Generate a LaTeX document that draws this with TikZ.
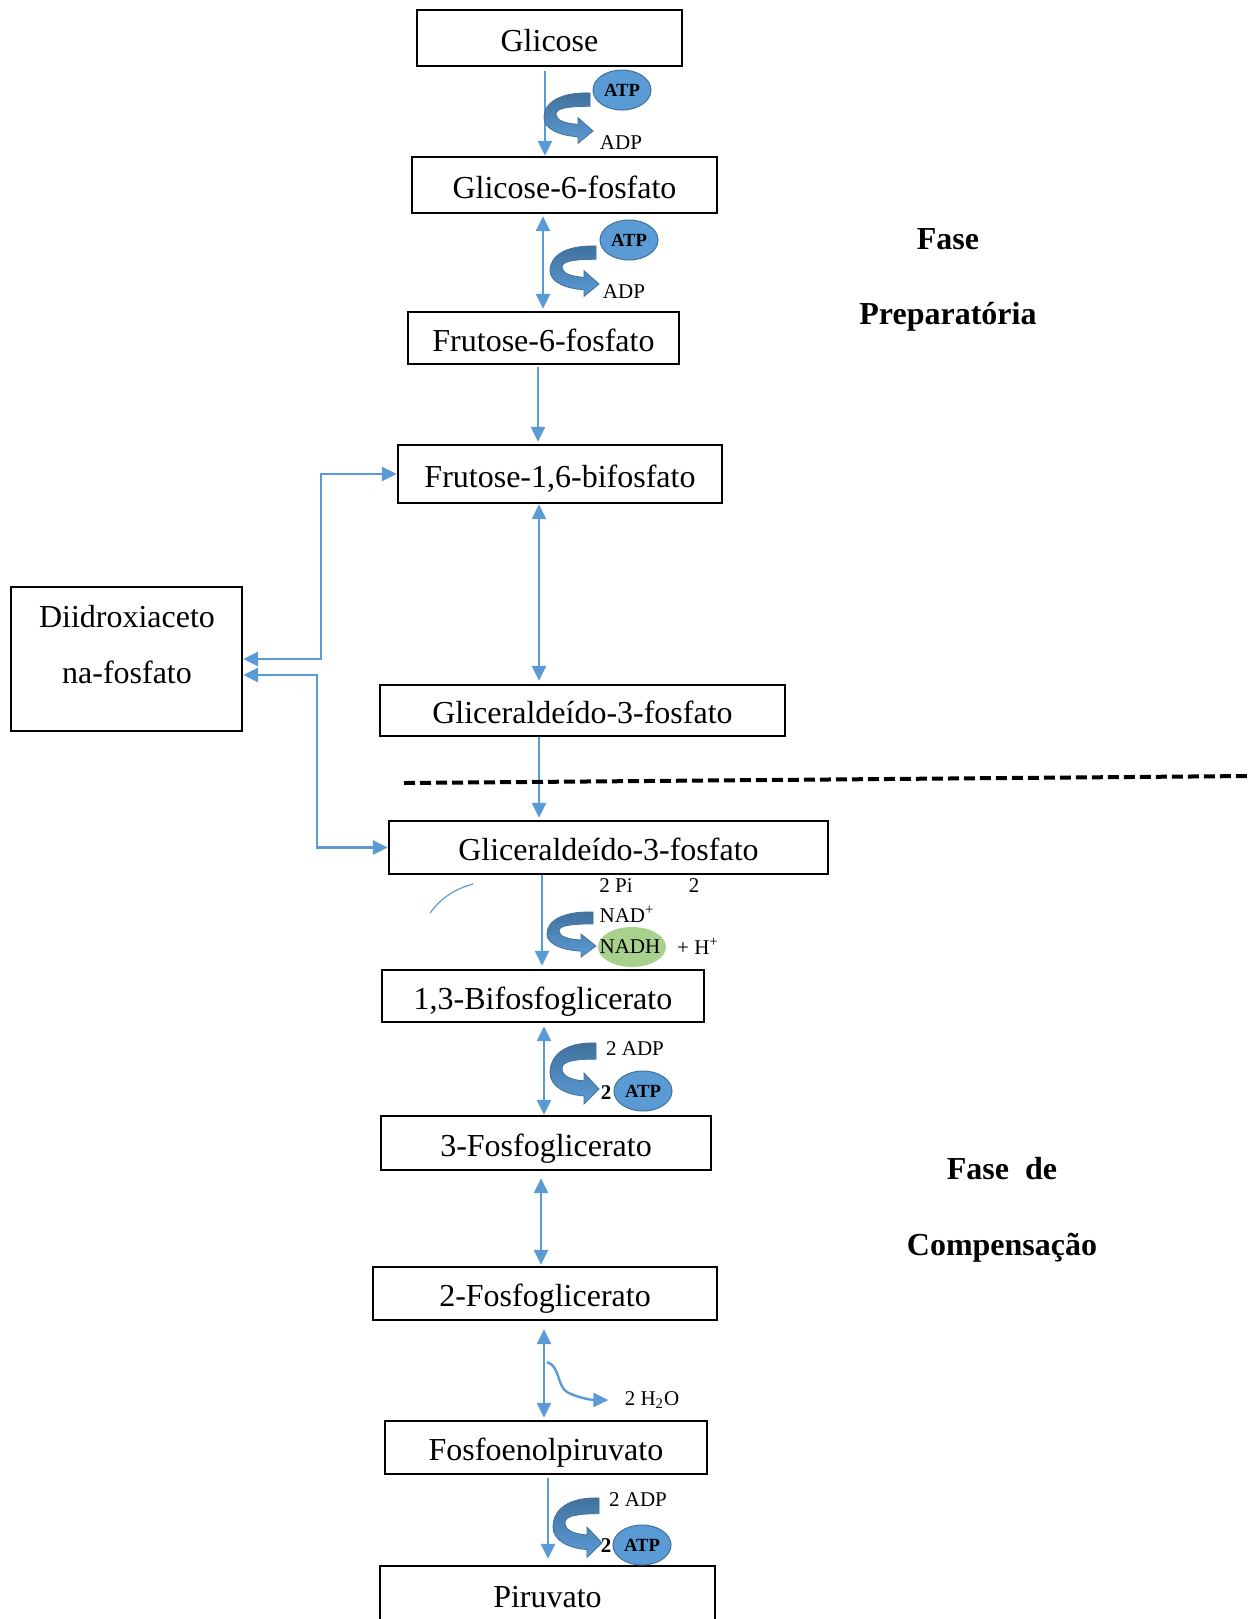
\documentclass[tikz,border=0pt]{standalone}
\usepackage{fontspec}
\setmainfont{Liberation Serif}
\usetikzlibrary{arrows.meta,shapes.geometric}

\definecolor{flowblue}{RGB}{91,155,213}
\definecolor{bandblue}{RGB}{65,113,156}
\definecolor{nadgreen}{RGB}{169,209,142}

\begin{document}
\begin{tikzpicture}[x=0.5pt, y=-0.5pt,
    box/.style={draw, line width=1.2pt, inner sep=0pt, text height=17pt, text depth=4pt, font=\fontsize{16}{19}\selectfont},
    flow/.style={flowblue, line width=1.4pt, -{Triangle[length=7.5pt,width=7pt]}},
    flowboth/.style={flowblue, line width=1.4pt, {Triangle[length=7.5pt,width=7pt]}-{Triangle[length=7.5pt,width=7pt]}},
    small/.style={font=\fontsize{10.5}{12}\selectfont, inner sep=0pt},
    atp/.style={ellipse, draw=bandblue, line width=0.5pt, fill=flowblue, minimum width=29pt, minimum height=20pt, inner sep=0pt, font=\fontsize{9.3}{11}\selectfont\bfseries},
    phase/.style={font=\fontsize{16}{19}\selectfont\bfseries, inner sep=0pt},
    atpcycle/.pic={
      \draw[bandblue, line width=0.4pt, top color=bandblue, bottom color=flowblue]
        (0,0) .. controls (-30,-1) and (-46,10) .. (-46,26)
        .. controls (-46,38) and (-30,45) .. (-12,46)
        -- (-12,53) -- (3,40) -- (-12,26) -- (-12,33)
        .. controls (-25,32) and (-34,29) .. (-34,22)
        .. controls (-34,16) and (-22,14) .. (0,14) -- cycle;
    }]
    \useasboundingbox (0,0) rectangle (1258,1619);

    % Boxes
    \node[box, minimum width=132.5pt, minimum height=28pt] (gli) at (549.5,38) {Glicose};
    \node[box, minimum width=152.5pt, minimum height=28pt] (g6p) at (564.5,185) {Glicose-6-fosfato};
    \node[box, minimum width=135.5pt, minimum height=26pt] (f6p) at (543.5,338) {Frutose-6-fosfato};
    \node[box, minimum width=162pt, minimum height=29pt] (f16) at (560,474) {Frutose-1,6-bifosfato};
    \node[box, minimum width=115.5pt, minimum height=72pt] (dha) at (126.5,659) {};
    \node[align=center, inner sep=0pt, font=\fontsize{16}{28}\selectfont] (dhatext) at (127,645) {Diidroxiaceto\\na-fosfato};
    \node[box, minimum width=202.5pt, minimum height=25.5pt] (gap1) at (582.5,710.5) {Gliceraldeído-3-fosfato};
    \node[box, minimum width=219.5pt, minimum height=26.5pt] (gap2) at (608.5,847.5) {Gliceraldeído-3-fosfato};
    \node[box, minimum width=161pt, minimum height=26pt] (bpg) at (543,996) {1,3-Bifosfoglicerato};
    \node[box, minimum width=165pt, minimum height=27pt] (pg3) at (546,1143) {3-Fosfoglicerato};
    \node[box, minimum width=172pt, minimum height=26.5pt] (pg2) at (545,1293.5) {2-Fosfoglicerato};
    \node[box, minimum width=161pt, minimum height=26.5pt] (pep) at (546,1447.5) {Fosfoenolpiruvato};
    \node[box, minimum width=167.5pt, minimum height=28pt] (pir) at (547.5,1594) {Piruvato};

    % Main flow
    \draw[flow, shorten <=2pt] (gli.south -| 545,0) -- (g6p.north -| 545,0);
    \draw[flowboth, shorten <=1pt, shorten >=1pt] (g6p.south -| 543,0) -- (f6p.north -| 543,0);
    \draw[flow, shorten <=1pt, shorten >=1pt] (f6p.south -| 538,0) -- (f16.north -| 538,0);
    \draw[flowboth, shorten >=1.5pt] (f16.south -| 539,0) -- (gap1.north -| 539,0);
    \draw[flow, shorten >=1pt] (gap1.south -| 539,0) -- (gap2.north -| 539,0);
    \draw[flow, shorten >=1.5pt] (gap2.south -| 542,0) -- (bpg.north -| 542,0);
    \draw[flowboth, shorten <=1.5pt] (bpg.south -| 544,0) -- (pg3.north -| 544,0);
    \draw[flowboth, shorten <=3.5pt, shorten >=0.5pt] (pg3.south -| 541,0) -- (pg2.north -| 541,0);
    \draw[flowboth, shorten <=4pt, shorten >=1pt] (pg2.south -| 544,0) -- (pep.north -| 544,0);
    \draw[flow, shorten <=1.5pt, shorten >=3pt] (pep.south -| 548,0) -- (pir.north -| 548,0);

    % Diidroxiacetona-fosfato links
    \draw[flowboth] (dha.east) -- (321,659) |- (f16.west);
    \draw[flowboth] ([yshift=-8pt]dha.east) -- (317,675) |- (gap2.west);

    % Phase split
    \draw[line width=2pt, dash pattern=on 5.5pt off 2.5pt] (404,783) -- (1250,776);
    \node[phase] (fase1) at (948,239) {Fase};
    \node[phase] (prep) at (948,317) {Preparatória};
    \node[phase] (fase2) at (1002,1169) {Fase\ \ de};
    \node[phase] (comp) at (1002,1248) {Compensação};

    % ATP -> ADP (1)
    \pic[yscale=0.95] at (590,93) {atpcycle};
    \node[atp] (atp1) at (622,90) {ATP};
    \node[small] (adp1) at (621,143) {ADP};
    % ATP -> ADP (2)
    \pic[yscale=0.95] at (596,246) {atpcycle};
    \node[atp] (atp2) at (629,240) {ATP};
    \node[small] (adp2) at (624,292) {ADP};

    % NAD+ -> NADH
    \draw[flowblue, line width=0.6pt] (430,913) .. controls (442,897) and (455,889) .. (473,884);
    \pic[yscale=0.85] at (593,912) {atpcycle};
    \node[small] (pi) at (616,886) {2 Pi};
    \node[small] (two) at (694,886) {2};
    \node[small] (nad) at (627,914) {NAD\textsuperscript{+}};
    \fill[nadgreen] (632,947) ellipse [x radius=34, y radius=20];
    \node[small] (nadh) at (630,947) {NADH};
    \node[small] (hplus) at (698,946) {+ H\textsuperscript{+}};

    % ADP -> ATP (1)
    \pic[yscale=1.15] at (596,1043) {atpcycle};
    \node[small] (adp3) at (635,1049) {2 ADP};
    \node[small, font=\fontsize{10.5}{12}\selectfont\bfseries] (n3) at (606,1093) {2};
    \node[atp] (atp3) at (643,1091) {ATP};

    % Water
    \coordinate (h2o) at (547,1362);
    \node[small] (wat) at (652,1400) {2 H\textsubscript{2}O};
    \draw[flowblue, line width=1.2pt, -{Triangle[length=7.5pt,width=7pt]}] (h2o) .. controls (560,1366) and (557,1386) .. (567,1392) .. controls (578,1398) and (592,1400) .. ([xshift=-8pt]wat.west);

    % ADP -> ATP (2)
    \pic[yscale=1.12] at (599,1498) {atpcycle};
    \node[small] (adp4) at (638,1500) {2 ADP};
    \node[small, font=\fontsize{10.5}{12}\selectfont\bfseries] (n4) at (606,1546) {2};
    \node[atp] (atp4) at (642,1545) {ATP};

\end{tikzpicture}
\end{document}
